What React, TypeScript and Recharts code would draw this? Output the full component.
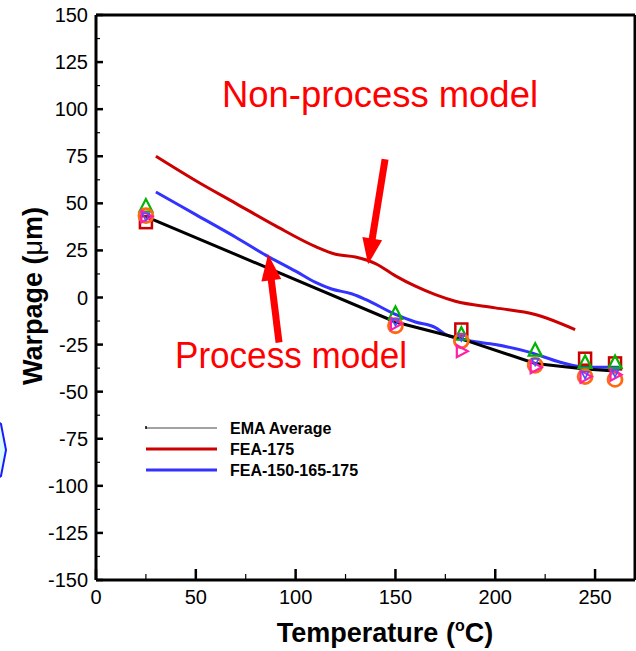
import {
  ComposedChart,
  Legend,
  Line,
  ReferenceLine,
  Scatter,
  XAxis,
  YAxis,
} from "recharts";

// averaged measurement (EMA) and the two FEA curves
const emaTemp = [25, 150, 183, 220, 245, 260];
const emaWarp = [43, -13, -22, -35, -38, -39];

const fea175Temp = [30, 50, 70, 90, 110, 120, 130, 140, 150, 160, 170, 180, 200, 220, 240];
const fea175Warp = [75, 62, 50, 38, 27, 23, 21.5, 18, 11.5, 6, 1.5, -2, -5.5, -9, -17];

const feaMultiTemp = [30, 50, 70, 85, 100, 110, 118, 128, 135, 150, 160, 170, 175, 187, 200, 217, 233, 245, 262];
const feaMultiWarp = [56, 44, 32, 22.5, 14, 8, 4.5, 2, -1, -9, -13, -16, -19.5, -23, -25, -29, -34.5, -37, -37];

// individual samples
const squareTemp = [25, 183, 245, 260];
const squareWarp = [40, -17, -32.5, -35];
const triUpTemp = [25, 150, 183, 220, 245, 260];
const triUpWarp = [48, -9, -20, -28.5, -35, -35];
const circleTemp = [25, 150, 183, 220, 245, 260];
const circleWarp = [43.5, -15, -23, -36, -42, -43.5];
const triRightTemp = [25, 150, 183, 220, 245, 260];
const triRightWarp = [43, -14, -28.5, -37, -42, -41];
const triDownTemp = [25, 150, 183, 220, 245, 260];
const triDownWarp = [43, -13, -21, -34, -41, -40];

const xTicks = [0, 25, 50, 75, 100, 125, 150, 175, 200, 225, 250];
const yTicks = [
  -150, -137.5, -125, -112.5, -100, -87.5, -75, -62.5, -50, -37.5, -25, -12.5, 0,
  12.5, 25, 37.5, 50, 62.5, 75, 87.5, 100, 112.5, 125, 137.5, 150,
];

const legendItems = [
  { name: "EMA Average", color: "#444", width: 1 },
  { name: "FEA-175", color: "#cc0000", width: 3 },
  { name: "FEA-150-165-175", color: "#3333ff", width: 3 },
];

const zip = (ts: number[], ws: number[]) => ts.map((t, i) => ({ t, w: ws[i] }));

const ema = zip(emaTemp, emaWarp);
const fea175 = zip(fea175Temp, fea175Warp);
const feaMulti = zip(feaMultiTemp, feaMultiWarp);

const FONT = "'Liberation Sans', Arial, sans-serif";

const XTick = (props: any) => {
  const { x, y, payload } = props;
  const v = payload.value;
  const major = v % 50 === 0;
  return (
    <g>
      <line x1={x} x2={x} y1={y} y2={y - (major ? 11 : 6)} stroke="#000" strokeWidth={major ? 2.5 : 1.2} />
      {major && (
        <text x={x} y={y + 24} textAnchor="middle" fontFamily={FONT} fontSize={20} fill="#000">
          {v}
        </text>
      )}
    </g>
  );
};

const YTick = (props: any) => {
  const { x, y, payload } = props;
  const v = payload.value;
  const major = v % 25 === 0;
  return (
    <g>
      <line x1={x} x2={x + (major ? 7 : 4)} y1={y} y2={y} stroke="#000" strokeWidth={major ? 2.5 : 1.2} />
      {major && (
        <text x={x - 8} y={y + 7} textAnchor="end" fontFamily={FONT} fontSize={20} fill="#000">
          {v}
        </text>
      )}
    </g>
  );
};

const Square = ({ cx, cy }: any) => (
  <rect x={cx - 6} y={cy - 6} width={12} height={12} fill="none" stroke="#cc0000" strokeWidth={2.5} />
);
const TriUp = ({ cx, cy }: any) => (
  <polygon points={`${cx},${cy - 8} ${cx - 6.5},${cy + 4.5} ${cx + 6.5},${cy + 4.5}`} fill="none" stroke="#00b400" strokeWidth={2.2} />
);
const Ring = ({ cx, cy }: any) => (
  <circle cx={cx} cy={cy} r={7} fill="none" stroke="#ff6a10" strokeWidth={2.8} />
);
const TriRight = ({ cx, cy }: any) => (
  <polygon points={`${cx + 6.5},${cy} ${cx - 4.5},${cy - 6} ${cx - 4.5},${cy + 6}`} fill="none" stroke="#ff1faa" strokeWidth={2.2} />
);
const TriDown = ({ cx, cy }: any) => (
  <polygon points={`${cx},${cy + 4} ${cx - 3.5},${cy - 3} ${cx + 3.5},${cy - 3}`} fill="none" stroke="#5050ff" strokeWidth={1.6} />
);

const Arrow = (props: any) => {
  const { x1, y1, x2, y2 } = props;
  const dx = x2 - x1;
  const dy = y2 - y1;
  const len = Math.sqrt(dx * dx + dy * dy);
  const ux = dx / len;
  const uy = dy / len;
  const head = 26;
  const half = 10;
  const bx = x2 - ux * head;
  const by = y2 - uy * head;
  return (
    <g>
      <line x1={x1} y1={y1} x2={bx + ux * 2} y2={by + uy * 2} stroke="#ff0000" strokeWidth={7} />
      <polygon
        points={`${x2},${y2} ${bx - uy * half},${by + ux * half} ${bx + uy * half},${by - ux * half}`}
        fill="#ff0000"
      />
    </g>
  );
};

const LegendBox = () => (
  <svg width={240} height={70}>
    {legendItems.map((it, i) => {
      const y = 13 + i * 21;
      return (
        <g key={it.name}>
          <line x1={6} x2={77} y1={y} y2={y} stroke={it.color} strokeWidth={it.width} />
          {i === 0 && <line x1={6} x2={6} y1={y - 2} y2={y + 1} stroke="#000" strokeWidth={1.5} />}
          <text x={90} y={y + 5.5} fontFamily={FONT} fontWeight="bold" fontSize={16} fill="#000">
            {it.name}
          </text>
        </g>
      );
    })}
  </svg>
);

export default function App() {
  return (
    <div style={{ position: "absolute", left: 0, top: 0, width: 636, height: 651, background: "#fff" }}>
      <ComposedChart width={636} height={651} margin={{ top: 15, right: 1, bottom: 0, left: 0 }}>
        <XAxis
          type="number"
          dataKey="t"
          domain={[0, 270]}
          ticks={xTicks}
          interval={0}
          allowDataOverflow
          height={71}
          tickSize={0}
          tickMargin={0}
          tickLine={false}
          tick={<XTick />}
          axisLine={{ stroke: "#000", strokeWidth: 3 }}
          label={() => (
            <text x={385} y={642} textAnchor="middle" fontFamily={FONT} fontWeight="bold" fontSize={27} fill="#000">
              Temperature (
              <tspan fontSize={16} dy={-11}>o</tspan>
              <tspan dy={11}>C)</tspan>
            </text>
          )}
        />
        <YAxis
          type="number"
          dataKey="w"
          domain={[-150, 150]}
          ticks={yTicks}
          interval={0}
          allowDataOverflow
          width={96}
          tickSize={0}
          tickMargin={0}
          tickLine={false}
          tick={<YTick />}
          axisLine={{ stroke: "#000", strokeWidth: 3 }}
          label={() => (
            <text
              x={42}
              y={296}
              transform="rotate(-90, 42, 296)"
              textAnchor="middle"
              fontFamily={FONT}
              fontWeight="bold"
              fontSize={27}
              fill="#000"
            >
              Warpage (<tspan fontWeight="normal">μ</tspan>m)
            </text>
          )}
        />
        <ReferenceLine y={150} stroke="#000" strokeWidth={3} />
        <ReferenceLine x={270} stroke="#000" strokeWidth={3} />

        <Scatter data={zip(squareTemp, squareWarp)} dataKey="w" shape={<Square />} isAnimationActive={false} legendType="none" />
        <Scatter data={zip(triUpTemp, triUpWarp)} dataKey="w" shape={<TriUp />} isAnimationActive={false} legendType="none" />
        <Scatter data={zip(circleTemp, circleWarp)} dataKey="w" shape={<Ring />} isAnimationActive={false} legendType="none" />
        <Scatter data={zip(triRightTemp, triRightWarp)} dataKey="w" shape={<TriRight />} isAnimationActive={false} legendType="none" />
        <Scatter data={zip(triDownTemp, triDownWarp)} dataKey="w" shape={<TriDown />} isAnimationActive={false} legendType="none" />

        <Line data={fea175} dataKey="w" type="monotone" stroke="#cc0000" strokeWidth={3} dot={false} isAnimationActive={false} />
        <Line data={feaMulti} dataKey="w" type="monotone" stroke="#3333ff" strokeWidth={3} dot={false} isAnimationActive={false} />
        <Line data={ema} dataKey="w" type="linear" stroke="#000" strokeWidth={3} dot={false} isAnimationActive={false} />

        <ReferenceLine segment={[{ x: 144.8, y: 73.4 }, { x: 136.3, y: 17.6 }]} shape={<Arrow />} />
        <ReferenceLine segment={[{ x: 91.7, y: -23.9 }, { x: 86.2, y: 22.9 }]} shape={<Arrow />} />

        <Legend
          layout="vertical"
          align="center"
          verticalAlign="middle"
          content={<LegendBox />}
          wrapperStyle={{ left: 140, top: 415, width: 240, height: 70 }}
        />
      </ComposedChart>
      <svg
        width={636}
        height={651}
        style={{ position: "absolute", left: 0, top: 0, pointerEvents: "none" }}
      >
        <polygon points="-4,420 1,424 6,450 1,476 -4,480" fill="#d9fbff" stroke="#1a1aff" strokeWidth={2} />
        <text x={222} y={107} fontFamily={FONT} fontSize={36} fill="#ff0000" textLength={316} lengthAdjust="spacingAndGlyphs">
          Non-process model
        </text>
        <text x={175} y={368} fontFamily={FONT} fontSize={36} fill="#ff0000" textLength={232} lengthAdjust="spacingAndGlyphs">
          Process model
        </text>
      </svg>
    </div>
  );
}
